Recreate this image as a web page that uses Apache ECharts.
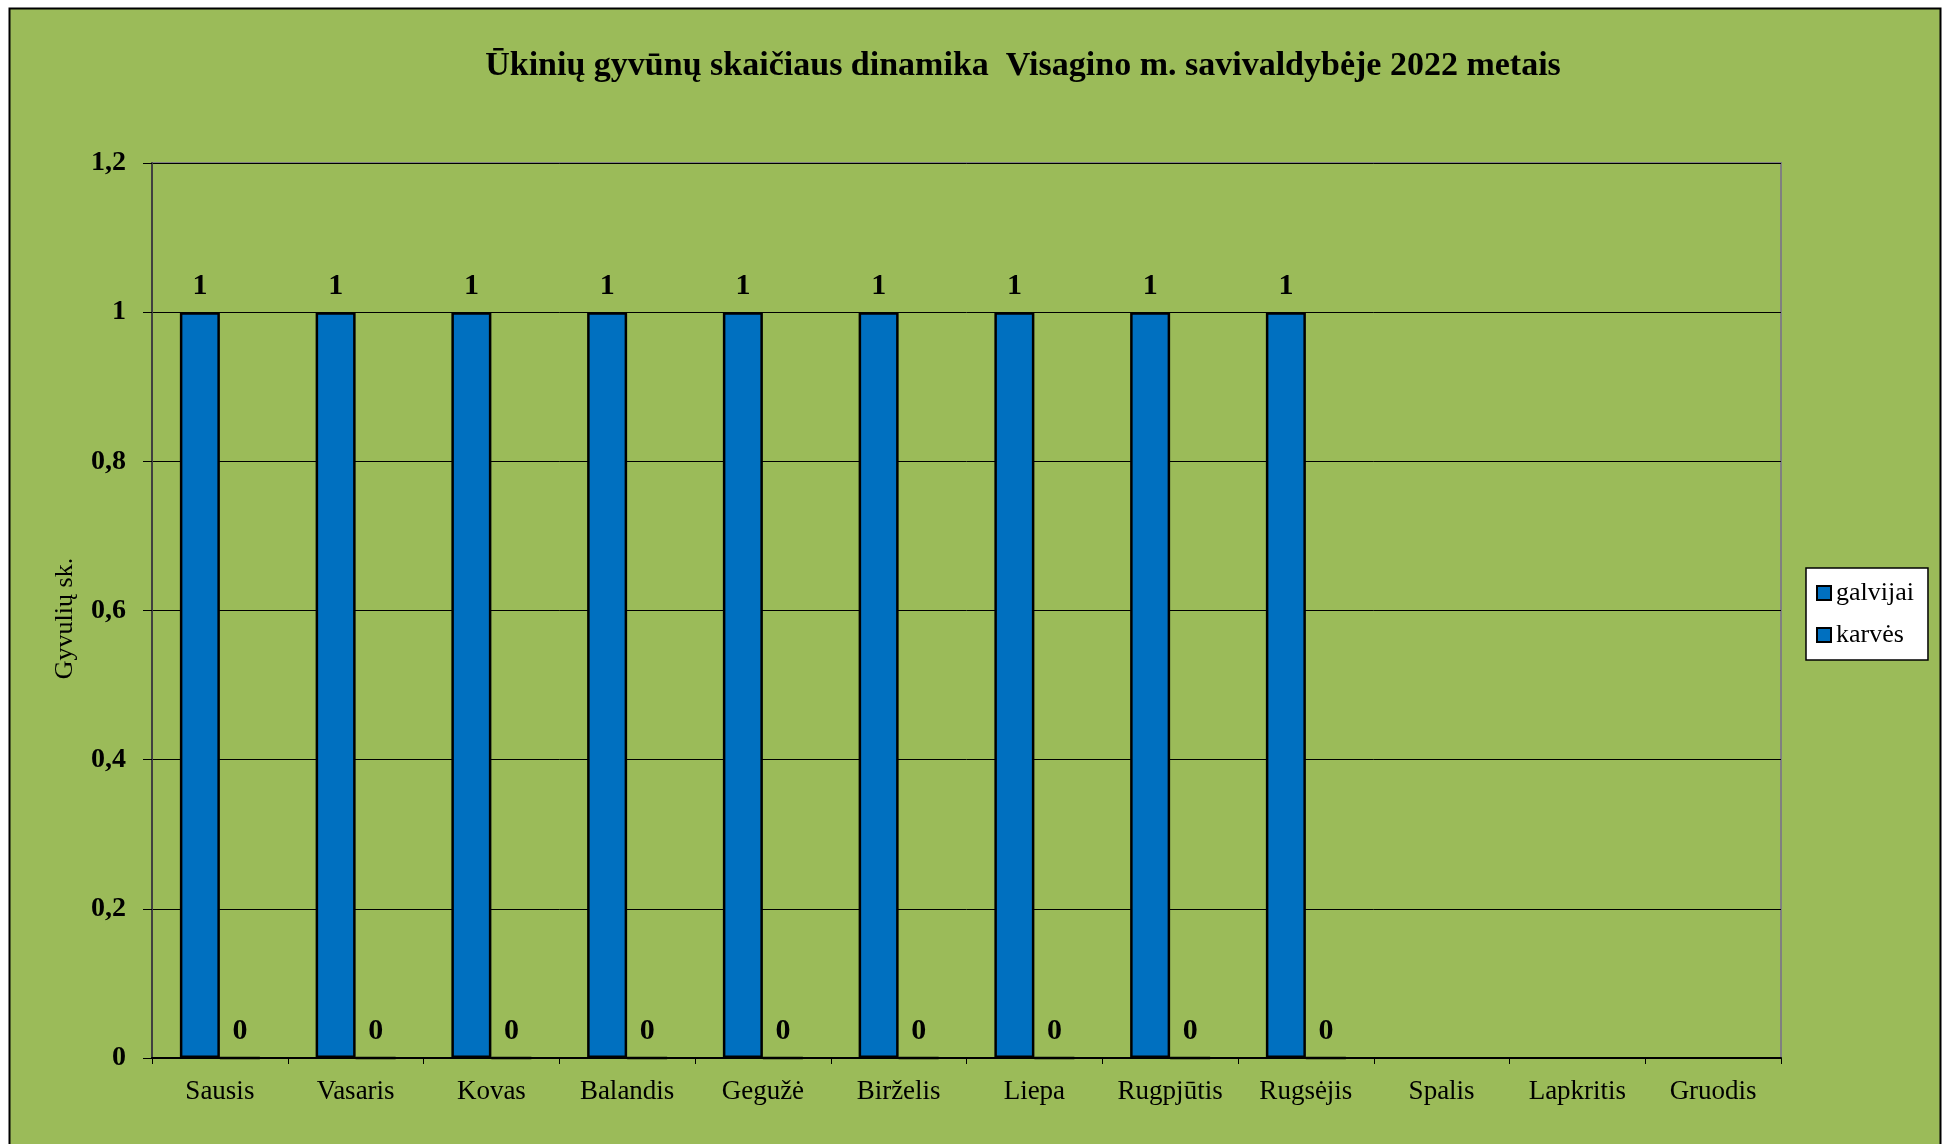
<!DOCTYPE html>
<html><head><meta charset="utf-8">
<script src="https://cdn.jsdelivr.net/npm/echarts@6/dist/echarts.min.js"></script>
<style>html,body{margin:0;padding:0;background:#fff}#c{width:1950px;height:1144px}</style>
</head><body><div id="c"></div>
<script>
const titleText = 'Ūkinių gyvūnų skaičiaus dinamika  Visagino m. savivaldybėje 2022 metais';
const yAxisName = 'Gyvulių sk.';
const months = ['Sausis','Vasaris','Kovas','Balandis','Gegužė','Birželis','Liepa','Rugpjūtis','Rugsėjis','Spalis','Lapkritis','Gruodis'];
const seriesNames = ['galvijai','karvės'];
const galvijai = [1,1,1,1,1,1,1,1,1,null,null,null];
const karves = [0,0,0,0,0,0,0,0,0,null,null,null];
const yTicks = {min:0, max:1.2, interval:0.2};

const F = 'Liberation Serif, Times New Roman, serif';
const chart = echarts.init(document.getElementById('c'), null, {renderer:'canvas'});
const lbl = {show:true, position:'top', distance:11, fontFamily:F, fontWeight:'bold', fontSize:30, color:'#000'};
chart.setOption({
  animation:false,
  backgroundColor:'#fff',
  graphic:[{type:'rect', z:-10, shape:{x:9.5,y:8.5,width:1931,height:1150}, style:{fill:'#9BBB59', stroke:'#000', lineWidth:2}}],
  title:{text:titleText, left:1018, top:44, textAlign:'center',
    textStyle:{fontFamily:F, fontWeight:'bold', fontSize:34, color:'#000'}},
  legend:{orient:'vertical', left:1806, top:568, width:127, itemWidth:14, itemHeight:14, itemGap:16,
    padding:[12,14,12,10], backgroundColor:'#fff', borderColor:'#000', borderWidth:1.5, borderRadius:0,
    icon:'rect', textStyle:{fontFamily:F, fontSize:26, color:'#000'}, data:seriesNames},
  grid:{left:152, right:169, top:163, bottom:86, show:true, borderColor:'#808080', borderWidth:2, backgroundColor:'transparent'},
  xAxis:{type:'category', data:months,
    axisLine:{lineStyle:{color:'#000', width:2}},
    axisTick:{show:true, interval:0, length:6, lineStyle:{color:'#000'}},
    axisLabel:{interval:0, hideOverlap:false, fontFamily:F, fontSize:27, color:'#000', margin:20}},
  yAxis:{type:'value', min:yTicks.min, max:yTicks.max, interval:yTicks.interval,
    name:yAxisName, nameLocation:'middle', nameGap:74, nameRotate:90,
    nameTextStyle:{fontFamily:F, fontSize:26, color:'#000', padding:[0,16,0,0]},
    axisLine:{show:true, lineStyle:{color:'#404040', width:2}},
    axisTick:{show:true, length:9, lineStyle:{color:'#000'}},
    splitLine:{lineStyle:{color:'#000', width:1}},
    axisLabel:{fontFamily:F, fontWeight:'bold', fontSize:28, color:'#000', margin:26,
      formatter:v=>String(Math.round(v*10)/10).replace('.',',')}},
  series:[
    {name:seriesNames[0], type:'bar', data:galvijai, barWidth:40, barGap:'0%',
     itemStyle:{color:'#0070C0', borderColor:'#000', borderWidth:2.5}, label:lbl},
    {name:seriesNames[1], type:'bar', data:karves, barWidth:40,
     itemStyle:{color:'#0070C0', borderColor:'#000', borderWidth:2.5}, label:lbl}
  ]
});
</script></body></html>
